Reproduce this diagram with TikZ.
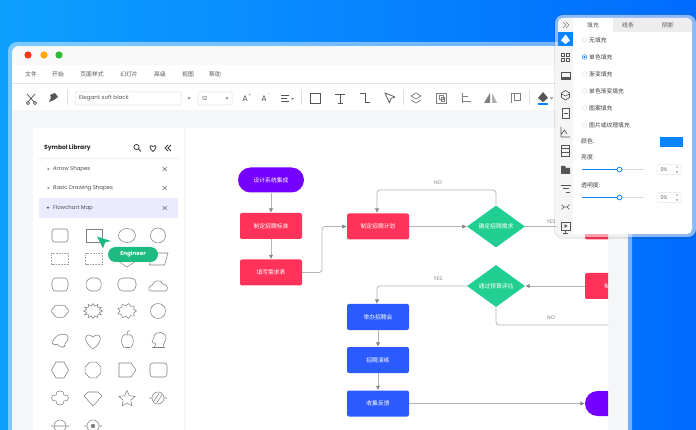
\documentclass[tikz,border=0pt]{standalone}
\usepackage{fontspec}
\setmainfont{Poppins}
\newfontfamily\cjk{Noto Sans CJK SC}
\usetikzlibrary{arrows.meta,shapes.geometric}
\definecolor{bgleft}{HTML}{0E9FFF}
\definecolor{bgright}{HTML}{006CFF}
\definecolor{hred}{HTML}{FF3359}
\definecolor{hblue}{HTML}{2B5BFF}
\definecolor{hgreen}{HTML}{20CF91}
\definecolor{hpurple}{HTML}{7500FF}
\definecolor{canvasgray}{HTML}{F5F6F8}
\definecolor{linegray}{HTML}{B4B4B4}
\definecolor{tipgray}{HTML}{888888}
\definecolor{inkgray}{HTML}{555555}
\definecolor{accent}{HTML}{0A84FF}
\definecolor{tabgray}{HTML}{EDEDED}
\tikzset{
  cntext/.style={font=\cjk\fontsize{5.8}{6.5}\selectfont},
  menutext/.style={cntext,text=inkgray,inner sep=0pt},
  boxnode/.style={cntext,text=white,rounded corners=2pt,minimum width=62pt,minimum height=26pt,inner sep=0pt},
  endnode/.style={cntext,text=white,rounded corners=12.5pt,minimum width=66pt,minimum height=25pt,inner sep=0pt,fill=hpurple},
  decnode/.style={cntext,text=white,diamond,aspect=1.38,fill=hgreen,minimum width=58pt,minimum height=42pt,inner sep=0pt},
  flowline/.style={draw=linegray,line width=.8pt,rounded corners=3pt},
  flowarrow/.style={flowline,-{Latex[length=4.5pt,width=4.5pt,color=tipgray]}},
  edgetext/.style={font=\fontsize{5.2}{6}\selectfont,text=gray,inner sep=0pt},
  symline/.style={draw=gray,line width=.55pt},
  toolicon/.style={draw=inkgray,line width=.75pt},
  fadeicon/.style={draw=gray,line width=.7pt},
  sideicon/.style={draw=inkgray,line width=.65pt}
}
\begin{document}
\begin{tikzpicture}[x=1pt,y=-1pt]
    \useasboundingbox (0,0) rectangle (696,430);
    \shade[left color=bgleft,right color=bgright] (0,0) rectangle (696,430);

    % --- Main window ---
    \fill[white,opacity=.45,rounded corners=9pt] (8,42) rectangle (632,440);
    \begin{scope}
        \clip[rounded corners=7pt] (12,46) rectangle (628,440);
        \fill[canvasgray] (12,46) rectangle (628,440);
        \fill[gray!5] (12,46) rectangle (628,65);
        \fill[white] (12,65) rectangle (628,110);
        \draw[gray!20,line width=.5pt] (12,83.5) -- (628,83.5);
    \end{scope}
    \fill[white] (33,128) rectangle (184,430);
    \fill[white] (186,128) rectangle (608,430);

    % Traffic lights
    \fill[red!75!orange!90] (28,55) circle (3.6);
    \fill[orange!70!yellow] (44,55) circle (3.6);
    \fill[green!65!black!80!white] (59,55) circle (3.6);

    % Menu
    \foreach \x/\t/\n in {31/文件/ma,58/开始/mb,92/页面样式/mc,129/幻灯片/md,160/高级/me,188/视图/mf,215/帮助/mg}
        \node[menutext] (\n) at (\x,74.5) {\t};

    % --- Toolbar ---
    \draw[toolicon] (27,94) -- (34,102) (35,94) -- (28,102);
    \draw[toolicon] (28,103) circle (1.6) (35,103) circle (1.6);
    \fill[inkgray] (50,95) -- (55,93) -- (58,97) -- (54,100) -- (49,102) -- (51,98) -- cycle;
    \draw[gray!25,line width=.5pt] (67,90) -- (67,105);
    \draw[gray!25,line width=.5pt,fill=white,rounded corners=1pt] (75,92) rectangle (181,105);
    \node[font=\fontsize{5.6}{6}\selectfont,text=inkgray,inner sep=0pt,anchor=west] (fontname) at (79,98.5) {Elegant soft black};
    \fill[gray] (187.5,97.5) -- (190.5,97.5) -- (189,99.5) -- cycle;
    \draw[gray!25,line width=.5pt,fill=white,rounded corners=1pt] (198,92) rectangle (232,105);
    \node[font=\fontsize{5.6}{6}\selectfont,text=inkgray,inner sep=0pt,anchor=west] (fontsize) at (202,98.5) {12};
    \fill[gray] (225.5,97.5) -- (228.5,97.5) -- (227,99.5) -- cycle;
    \node[font=\fontsize{8}{8}\selectfont,text=inkgray,inner sep=0pt] (growa) at (245,99) {A};
    \node[font=\fontsize{4}{4}\selectfont,text=inkgray,inner sep=0pt] (growp) at (250,95) {+};
    \node[font=\fontsize{8}{8}\selectfont,text=inkgray,inner sep=0pt] (shrinka) at (264,99) {A};
    \node[font=\fontsize{4}{4}\selectfont,text=inkgray,inner sep=0pt] (shrinkm) at (269,95) {-};
    \draw[toolicon] (281,95) -- (289,95) (281,98) -- (287,98) (281,101) -- (289,101);
    \fill[gray] (291,98) -- (294,98) -- (292.5,100) -- cycle;
    \draw[gray!25,line width=.5pt] (301,90) -- (301,105);
    \draw[toolicon] (310,93) rectangle (320,103);
    \draw[toolicon] (335,94) -- (345,94) (340,94) -- (340,103) (337.5,103) -- (342.5,103);
    \draw[toolicon] (360,93) -- (365,93) -- (365,102) -- (370,102);
    \draw[toolicon,line join=round] (385,93) -- (395,97) -- (391,98.5) -- (389.5,103) -- cycle;
    \draw[gray!25,line width=.5pt] (403,90) -- (403,105);
    \draw[fadeicon] (411,96) -- (416,93) -- (421,96) -- (416,99) -- cycle (411,100) -- (416,103) -- (421,100);
    \draw[fadeicon] (436,93) rectangle (446,103) (439,95.5) rectangle (443,99) (441,97.5) rectangle (444.5,101);
    \draw[fadeicon] (462,93) -- (462,103) (462,96) -- (468,96) (462,101) -- (471,101);
    \fill[gray] (484,103) -- (490,93) -- (490,103) -- cycle;
    \fill[gray!60] (492,103) -- (492,93) -- (497,103) -- cycle;
    \draw[fadeicon] (511,103) -- (511,93) -- (520,93) -- (520,100) -- (514,100) -- (514,93);
    \draw[gray!25,line width=.5pt] (529,90) -- (529,105);
    \fill[inkgray] (543,92) -- (548,98) -- (543,102) -- (538,98) -- cycle;
    \fill[accent] (538,103.5) rectangle (548,105);
    \fill[gray] (550,97.5) -- (553,97.5) -- (551.5,99.5) -- cycle;

    % --- Symbol library ---
    \node[font=\bfseries\fontsize{6}{7}\selectfont,text=black!85,inner sep=0pt,anchor=west] (libtitle) at (44,148) {Symbol Library};
    \draw[black!75,line width=.8pt] (136.5,147) circle (2.6) (138.5,149) -- (141,151.5);
    \draw[black!75,line width=.8pt] (153,151.5) .. controls (148,147) and (150,144) .. (153,146.5) .. controls (156,144) and (158,147) .. (153,151.5);
    \draw[black!75,line width=.8pt] (168,145) -- (165,148) -- (168,151) (171,145) -- (168,148) -- (171,151);
    \draw[gray!12,line width=.6pt] (38,158.5) -- (180,158.5);
    \fill[blue!8] (39,198) rectangle (178,218);
    \foreach \y/\t/\n in {169/Arrow Shapes/rowa,188/Basic Drawing Shapes/rowb,208/Flowchart Map/rowc}{
        \node[font=\fontsize{5.4}{6}\selectfont,text=black!70,inner sep=0pt,anchor=west] (\n) at (53,\y) {\t};
        \draw[gray,line width=.6pt] (162.5,\y-2) -- (167,\y+2) (167,\y-2) -- (162.5,\y+2);
    }
    \fill[gray] (47.5,167.5) -- (49.5,169) -- (47.5,170.5) -- cycle;
    \fill[gray] (47.5,186.5) -- (49.5,188) -- (47.5,189.5) -- cycle;
    \fill[inkgray] (46.5,207) -- (49.5,207) -- (48,209) -- cycle;

    % Row 1
    \draw[symline,rounded corners=2.5pt] (52,229) rectangle (68,242);
    \draw[symline] (86,229) rectangle (102,242);
    \draw[symline] (127,235.5) ellipse (8.5 and 7);
    \draw[symline] (158,235.5) circle (7.5);
    % Row 2
    \draw[symline,gray!70,densely dotted] (51.5,253.5) rectangle (68.5,264.5);
    \draw[symline,gray!70,densely dotted] (85.5,253.5) rectangle (102.5,264.5);
    \draw[symline] (118,261) -- (127,267) -- (136,261) -- (127,255) -- cycle;
    \draw[symline] (149.5,265) -- (153,253) -- (168,253) -- (164.5,265) -- cycle;
    % Row 3
    \draw[symline,rounded corners=1pt] (54,278) -- (66,278) -- (68,281) -- (68,288) -- (66,291) -- (54,291) -- (52,288) -- (52,281) -- cycle;
    \draw[symline,rounded corners=2pt] (89,278) -- (99,278) -- (102,284.5) -- (99,291) -- (89,291) -- (85,284.5) -- cycle;
    \draw[symline,rounded corners=5pt] (118,278) rectangle (136,291);
    \draw[symline] (151,291) .. controls (147,291) and (149,285) .. (152,285.5) .. controls (153,280) and (161,279) .. (163,284) .. controls (168,284) and (169,291) .. (165,291) -- cycle;
    % Row 4
    \begin{scope}[shift={(60,311)}]
        \draw[symline,rounded corners=1.5pt] (90:6.5) \foreach \a in {120,150,...,420} {-- (\a:{9.5-2*mod(\a,60)/30} and {7-1.5*mod(\a,60)/30})} -- cycle;
    \end{scope}
    \begin{scope}[shift={(93,311)}]
        \draw[symline] (0:9.5 and 7.5) \foreach \a in {15,30,...,345} {-- (\a:{9.5-3*mod(\a,30)/15} and {7.5-2.5*mod(\a,30)/15})} -- cycle;
    \end{scope}
    \begin{scope}[shift={(127,311)}]
        \draw[symline] (0:9.5 and 7.5) \foreach \a in {20,40,...,340} {-- (\a:{9.5-2.5*mod(\a,40)/20} and {7.5-2*mod(\a,40)/20})} -- cycle;
    \end{scope}
    \begin{scope}[shift={(158,311)}]
        \draw[symline,rounded corners=1pt] (0:8) \foreach \a in {15,30,...,345} {-- (\a:{8-mod(\a,30)/15})} -- cycle;
    \end{scope}
    % Row 5
    \draw[symline,rounded corners=1.5pt] (52,343) -- (55,337) -- (61,334) -- (68,335) -- (68,340) -- (64,345) -- (65,347) -- (60,347) -- (58,344) -- (54,345) -- cycle;
    \draw[symline] (93,349) .. controls (80,340) and (87,331) .. (93,337) .. controls (99,331) and (106,340) .. (93,349);
    \draw[symline] (127,335) .. controls (120,332) and (120,348) .. (126,347.5) .. controls (127,347) and (128,347) .. (129,347.5) .. controls (135,348) and (135,332) .. (127,335);
    \draw[symline] (127,335) -- (128,331) -- (130,331);
    \draw[symline] (154,347.5) -- (156,344) -- (152,342) -- (154,337) .. controls (155,330) and (167,331) .. (166,339) .. controls (166,341) and (163,343) .. (163,347.5) -- (154,347.5) (152,347.5) -- (165,347.5);
    % Row 6
    \draw[symline] (51.5,370) -- (56,362) -- (64,362) -- (68.5,370) -- (64,378) -- (56,378) -- cycle;
    \begin{scope}[shift={(93,370)}]
        \draw[symline] (22.5:8.5) \foreach \a in {67.5,112.5,...,337.5} {-- (\a:8.5)} -- cycle;
    \end{scope}
    \draw[symline] (119,363) -- (131,363) -- (136,370) -- (131,377) -- (119,377) -- cycle;
    \draw[symline,rounded corners=3pt] (150,377) -- (150,363) -- (167,363) -- (167,377) -- cycle;
    % Row 7
    \draw[symline] (60,391) .. controls (65,391) and (63,395) .. (64,395) .. controls (70,394) and (70,402) .. (64,401) .. controls (63,401) and (65,405) .. (60,405) .. controls (55,405) and (57,401) .. (56,401) .. controls (50,402) and (50,394) .. (56,395) .. controls (57,395) and (55,391) .. (60,391);
    \draw[symline] (88,392) -- (98,392) -- (102,396) -- (93,406) -- (84,396) -- cycle;
    \begin{scope}[shift={(127,399)}]
        \draw[symline] (-90:8.5) \foreach \a in {-54,-18,...,234} {-- (\a:{8.5-4.5*mod(\a+90,72)/36})} -- cycle;
    \end{scope}
    \draw[symline] (158,398) circle (6) (149,398) -- (152,398) (164,398) -- (167,398);
    \draw[symline] (154,401) -- (159,393.5) (157,402.5) -- (162,395);
    % Row 8
    \draw[symline] (60,426) circle (6) (50.5,426) -- (69.5,426);
    \draw[symline] (93,426) circle (6) (84,426) -- (87,426) (99,426) -- (102,426);
    \fill[gray] (93,426) circle (2.2);

    % Engineer badge
    \fill[hgreen!90!black] (97,236.5) -- (111,241) -- (105,242.5) -- (103,248.5) -- cycle;
    \node[fill=hgreen!90!black,text=white,font=\bfseries\fontsize{5.6}{6}\selectfont,rounded corners=7.5pt,minimum width=50pt,minimum height=15pt,inner sep=0pt] (engineer) at (133,254.5) {Engineer};

    % --- Flowchart, cut off at the edge of the canvas ---
    \begin{scope}
        \clip (186,128) rectangle (608,430);
        \node[endnode] (start) at (271,180) {设计系统集成};
        \node[boxnode,fill=hred] (std) at (271,226) {制定招聘标准};
        \node[boxnode,fill=hred] (form) at (271,272.5) {填写需求表};
        \node[boxnode,fill=hred] (plan) at (378,226.5) {制定招聘计划};
        \node[decnode] (need) at (496,226.5) {确定招聘需求};
        \node[boxnode,fill=hred] (offer) at (616,226.5) {};
        \node[decnode] (budget) at (496,286) {通过预算评估};
        \node[boxnode,fill=hred] (redo) at (616,286) {制定预算};
        \node[boxnode,fill=hblue] (fair) at (378,317) {举办招聘会};
        \node[boxnode,fill=hblue] (drill) at (378,360) {招聘演练};
        \node[boxnode,fill=hblue] (feedback) at (378,403.5) {收集反馈};
        \node[endnode] (finish) at (618,403.5) {};
        \coordinate (noout) at (620,325);

        \draw[flowarrow] (start) -- (std);
        \draw[flowarrow] (std) -- (form);
        \draw[flowarrow] (form.east) -- (322,272.5) -- (322,226.5) -- (plan.west);
        \draw[flowarrow] (plan) -- (need);
        \draw[flowarrow] (need.north) -- (496,190) -- (377,190) -- (377,213);
        \draw[flowline] (need) -- (offer);
        \draw[flowarrow] (budget.west) -- (377,286) -- (377,304);
        \draw[flowarrow] (redo) -- (budget);
        \draw[flowline] (budget.south) -- (496,325) -- (noout);
        \draw[flowarrow] (fair) -- (drill);
        \draw[flowarrow] (drill) -- (feedback);
        \draw[flowarrow] (feedback) -- (finish);

        \node[edgetext] (noa) at (438,183) {NO};
        \node[edgetext] (yesa) at (551,222) {YES};
        \node[edgetext] (yesb) at (438,279) {YES};
        \node[edgetext] (nob) at (551,318) {NO};
    \end{scope}

    % --- Format panel ---
    \fill[black,opacity=.08,rounded corners=9pt] (554,14) rectangle (697,239);
    \fill[white,opacity=.55,rounded corners=8pt] (555,15) rectangle (696,237);
    \fill[white,rounded corners=5pt] (558,18) rectangle (692,234);
    \begin{scope}
        \clip[rounded corners=5pt] (558,18) rectangle (692,234);
        \fill[gray!8] (558,18) rectangle (573,234);
        \fill[tabgray] (613,18) rectangle (692,32);
        \fill[accent] (558,32) rectangle (573,46);
    \end{scope}
    \draw[gray,line width=.5pt] (563,22) -- (566,25) -- (563,28) (566,22) -- (569,25) -- (566,28);
    \foreach \x/\t/\n in {593/填充/taba,628/线条/tabb,668/阴影/tabc}
        \node[menutext] (\n) at (\x,25) {\t};
    \fill[white] (565.5,34.5) -- (570,40.5) -- (565.5,44) -- (561,40.5) -- cycle;

    % Side icons
    \draw[sideicon] (561,53) rectangle (564.5,56.5) (566,53) rectangle (569.5,56.5) (561,58) rectangle (564.5,61.5) (566,58) rectangle (569.5,61.5);
    \draw[sideicon] (561,72) rectangle (570,79);
    \fill[inkgray] (561,77) rectangle (570,79);
    \draw[sideicon] (565.5,90.5) -- (569.5,93) -- (569.5,97.5) -- (565.5,100) -- (561.5,97.5) -- (561.5,93) -- cycle (561.5,94) -- (565.5,96) -- (569.5,94);
    \draw[sideicon] (562,108.5) rectangle (569,118) (563.5,113) -- (567.5,113);
    \draw[sideicon] (561,137) -- (561,127) (561,137) -- (570,137) (561.5,134) -- (564.5,130) -- (567,134);
    \draw[sideicon] (561.5,145.5) rectangle (569.5,156.5) (561.5,148.5) -- (569.5,148.5) (561.5,152.5) -- (569.5,152.5);
    \fill[inkgray] (561,166) -- (565,166) -- (566,168) -- (570,168) -- (570,174) -- (561,174) -- cycle;
    \draw[sideicon] (560.5,185) -- (570.5,185) (562.5,188.5) -- (568.5,188.5) (566,192) -- (570,192);
    \draw[sideicon] (561.5,204.5) -- (564,207) -- (561.5,209.5) (569.5,204.5) -- (567,207) -- (569.5,209.5) (564,207) -- (567,207);
    \draw[sideicon] (561,222) rectangle (570,230) (565.5,230) -- (565.5,233) (563,233) -- (568,233);
    \fill[inkgray] (564.5,224) -- (567.5,226) -- (564.5,228) -- cycle;

    % Fill options
    \foreach \y/\t/\n in {40/无填充/opta,57/单色填充/optb,74/渐变填充/optc,91/单色渐变填充/optd,108/图案填充/opte,125/图片或纹理填充/optf}{
        \draw[gray!30,line width=.4pt] (584.5,\y) circle (2.3);
        \node[menutext,text=black!75,anchor=west] (\n) at (589,\y) {\t};
    }
    \draw[accent,line width=.4pt,fill=white] (584.5,57) circle (2.3);
    \fill[accent] (584.5,57) circle (1.2);
    \node[menutext,text=black!75,anchor=west] (colorlbl) at (581,141.5) {颜色:};
    \fill[accent] (660,137) rectangle (683,147);
    \node[menutext,text=black!75,anchor=west] (lightlbl) at (581,157) {亮度:};
    \node[menutext,text=black!75,anchor=west] (alphalbl) at (581,185) {透明度:};
    \foreach \y/\n in {169.5/lightval,197.5/alphaval}{
        \draw[gray!30,line width=1pt] (582,\y) -- (644,\y);
        \draw[accent,line width=1pt] (582,\y) -- (619.5,\y);
        \draw[accent,line width=.7pt,fill=white] (619.5,\y) circle (2.4);
        \draw[gray!20,line width=.5pt,rounded corners=1pt] (657,\y-5) rectangle (681,\y+5);
        \node[font=\fontsize{5}{6}\selectfont,text=inkgray,inner sep=0pt] (\n) at (664,\y) {0\%};
        \fill[gray] (676,\y-2) -- (678,\y-2) -- (677,\y-3.5) -- cycle;
        \fill[gray] (676,\y+2) -- (678,\y+2) -- (677,\y+3.5) -- cycle;
    }
\end{tikzpicture}
\end{document}
